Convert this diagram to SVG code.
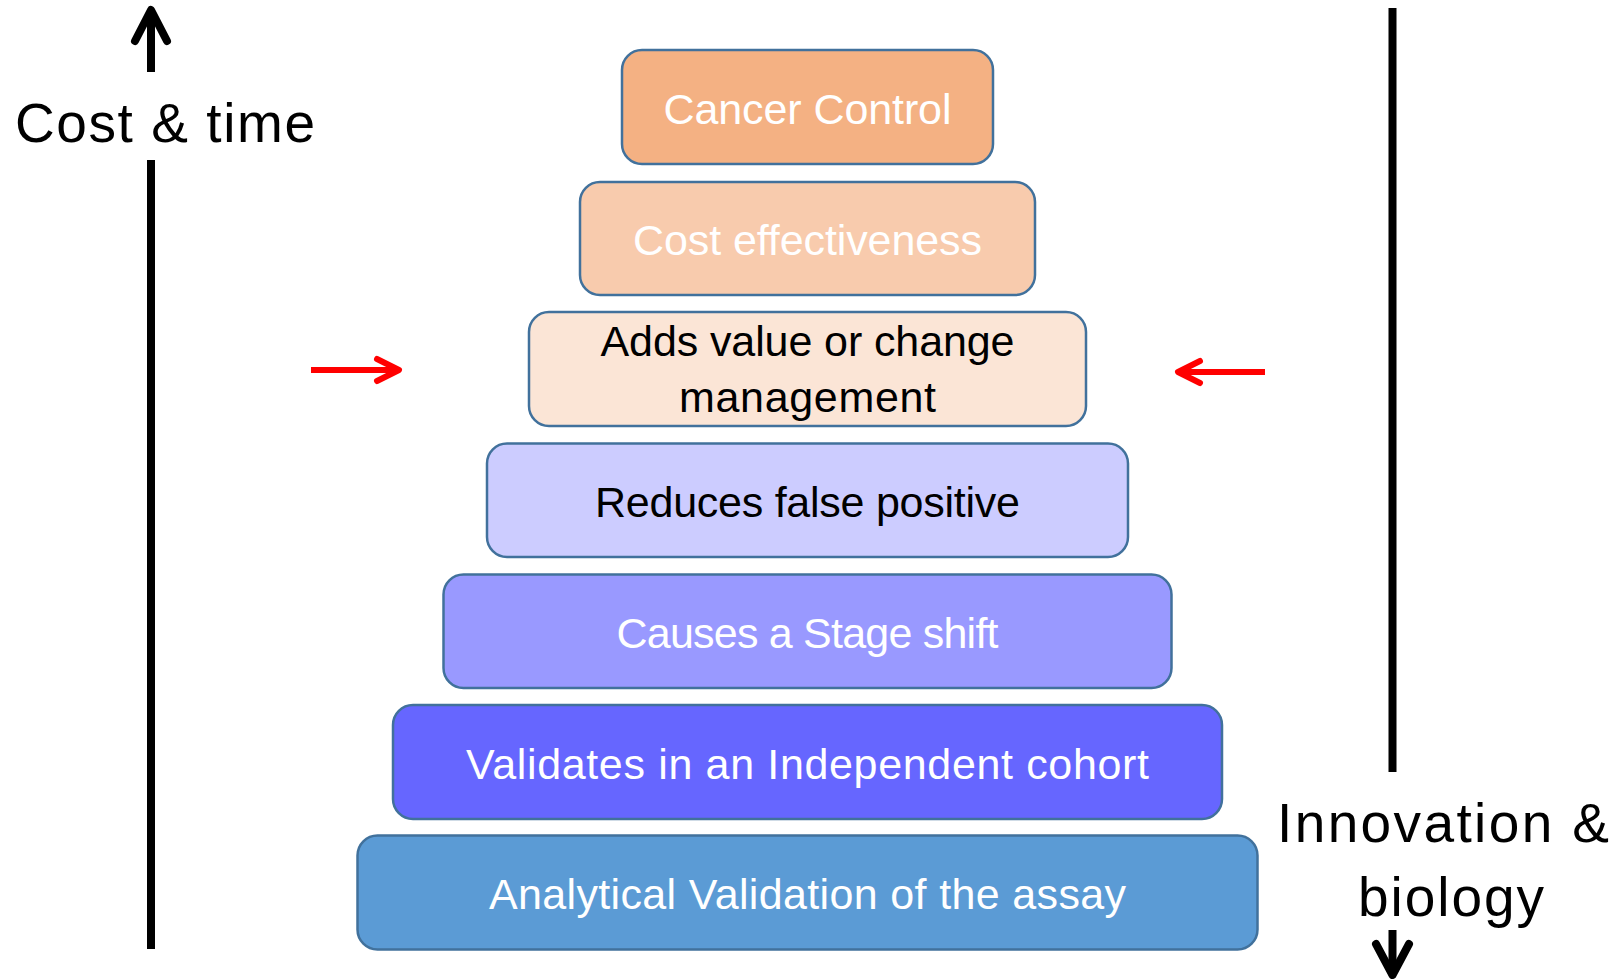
<svg xmlns="http://www.w3.org/2000/svg" width="1617" height="979" viewBox="0 0 1617 979">
  <style>
    .box { stroke: #41719C; stroke-width: 2.5; }
    .lbl { font-family: "Liberation Sans", Arial, sans-serif; font-size: 43px; text-anchor: middle; }
    .light { fill: #FFFFFF; }
    .dark { fill: #000000; }
    .axis { font-family: "Liberation Sans", Arial, sans-serif; font-size: 55px; fill: #000000; }
    .bar { stroke: #000000; stroke-width: 8; fill: none; }
    .head { stroke: #000000; stroke-width: 8; fill: none; stroke-linecap: round; stroke-linejoin: round; }
    .red { stroke: #FF0000; stroke-width: 6; fill: none; }
    .redhead { stroke: #FF0000; stroke-width: 6; fill: none; stroke-linecap: round; stroke-linejoin: round; }
  </style>

  <rect width="1617" height="979" fill="#FFFFFF"/>

  <!-- pyramid tiers, top to bottom -->
  <g id="cancer-control">
    <rect class="box" x="622" y="50" width="371" height="114" rx="20" fill="#F4B183"/>
    <text class="lbl light" x="807.5" y="124" textLength="288">Cancer Control</text>
  </g>
  <g id="cost-effectiveness">
    <rect class="box" x="580" y="182" width="455" height="113" rx="20" fill="#F8CBAD"/>
    <text class="lbl light" x="807.5" y="255" textLength="349">Cost effectiveness</text>
  </g>
  <g id="adds-value">
    <rect class="box" x="529" y="312" width="557" height="114" rx="20" fill="#FBE5D6"/>
    <text class="lbl dark" x="807.5" y="356" textLength="414">Adds value or change</text>
    <text class="lbl dark" x="807.5" y="412" textLength="257">management</text>
  </g>
  <g id="reduces-false-positive">
    <rect class="box" x="487" y="443.5" width="641" height="113.5" rx="20" fill="#CCCCFF"/>
    <text class="lbl dark" x="807.5" y="517" textLength="425">Reduces false positive</text>
  </g>
  <g id="stage-shift">
    <rect class="box" x="443.5" y="574.5" width="728" height="113.5" rx="20" fill="#9999FF"/>
    <text class="lbl light" x="807.5" y="648" textLength="382">Causes a Stage shift</text>
  </g>
  <g id="independent-cohort">
    <rect class="box" x="393" y="705" width="829" height="114" rx="20" fill="#6666FF"/>
    <text class="lbl light" x="807.5" y="779" textLength="683">Validates in an Independent cohort</text>
  </g>
  <g id="analytical-validation">
    <rect class="box" x="357.5" y="835.5" width="900" height="114" rx="20" fill="#5B9BD5"/>
    <text class="lbl light" x="807.5" y="909" textLength="637">Analytical Validation of the assay</text>
  </g>

  <!-- axes and pointer arrows -->
  <g id="connectors">
    <!-- cost & time axis (upward) -->
    <line class="bar" x1="151" y1="12" x2="151" y2="72"/>
    <polyline class="head" points="135,41 151,10 167,41"/>
    <line class="bar" x1="151" y1="160" x2="151" y2="949"/>
    <!-- innovation & biology axis (downward) -->
    <line class="bar" x1="1392.5" y1="8" x2="1392.5" y2="772"/>
    <line class="bar" x1="1392.5" y1="930" x2="1392.5" y2="973"/>
    <polyline class="head" points="1376,944 1392.5,975 1409,944"/>
    <!-- red pointers at the middle tier -->
    <line class="red" x1="311" y1="370" x2="396" y2="370"/>
    <polyline class="redhead" points="377,359 399,370 377,381"/>
    <line class="red" x1="1265" y1="372" x2="1181" y2="372"/>
    <polyline class="redhead" points="1200,361 1178,372 1200,383"/>
  </g>

  <g id="axis-labels">
    <text class="axis" x="15" y="142" textLength="300">Cost &amp; time</text>
    <text class="axis" x="1277" y="842" textLength="332">Innovation &amp;</text>
    <text class="axis" x="1358" y="916" textLength="186">biology</text>
  </g>
</svg>
